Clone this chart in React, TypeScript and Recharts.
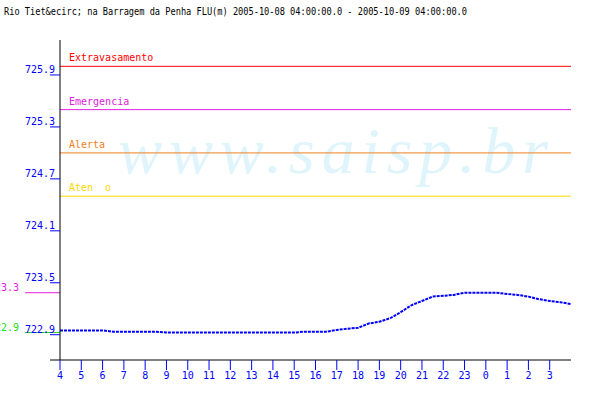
import React from 'react';
import { LineChart, Line, XAxis, YAxis, ReferenceLine, Customized } from 'recharts';

const title =
  'Rio Tiet&ecirc; na Barragem da Penha FLU(m) 2005-10-08 04:00:00.0 - 2005-10-09 04:00:00.0';
const watermark = 'www.saisp.br';

// hours after 04:00, one reading every half hour
const startHour = 4;
const hourTicks = [0, 1, 2, 3, 4, 5, 6, 7, 8, 9, 10, 11, 12, 13, 14, 15, 16, 17, 18, 19, 20, 21, 22, 23];
const levelTicks = [722.9, 723.5, 724.1, 724.7, 725.3, 725.9];

const levels = [
  722.95, 722.95, 722.95, 722.95, 722.95, 722.935, 722.935, 722.935, 722.935, 722.935, 722.925,
  722.925, 722.925, 722.925, 722.925, 722.925, 722.925, 722.925, 722.925, 722.925, 722.925, 722.925,
  722.925, 722.935, 722.935, 722.935, 722.955, 722.97, 722.98, 723.03, 723.05, 723.09, 723.16,
  723.24, 723.29, 723.34, 723.35, 723.36, 723.385, 723.385, 723.385, 723.385, 723.37, 723.36,
  723.34, 723.31, 723.29, 723.275, 723.255,
];

const thresholdNames = ['Extravasamento', 'Emergencia', 'Alerta', 'Aten  o'];
const thresholdValues = [726.0, 725.5, 725.0, 724.5];
const thresholdColors = ['#ff0000', '#e020e0', '#f08020', '#ffd700'];

const data = levels.map((v, i) => ({ h: i / 2, level: v }));
const maxLevel = Math.max(...levels);
const minLevel = Math.min(...levels);

const BLUE = '#0000ff';
const FONT = '"DejaVu Sans Mono", monospace';

const YTick = (props: any) => {
  const { y, payload } = props;
  return (
    <g>
      <line x1={50} x2={60} y1={y} y2={y} stroke={BLUE} />
      <text x={55} y={y - 2} textAnchor="end" fill={BLUE} fontSize={10} fontFamily={FONT}>
        {payload.value.toFixed(1)}
      </text>
    </g>
  );
};

const XTick = (props: any) => {
  const { x, y, payload } = props;
  return (
    <g>
      <line x1={x} x2={x} y1={y} y2={y + 10} stroke={BLUE} />
      <text x={x} y={y + 19} textAnchor="middle" fill={BLUE} fontSize={10} fontFamily={FONT}>
        {(payload.value + startHour) % 24}
      </text>
    </g>
  );
};

const thresholdLabel = (name: string, color: string) => (props: any) => {
  const vb = props.viewBox || {};
  return (
    <text x={vb.x + 9} y={vb.y - 5} fill={color} fontSize={10} fontFamily={FONT} style={{ whiteSpace: 'pre' }}>
      {name}
    </text>
  );
};

const sideLabel = (value: number, color: string) => (props: any) => {
  const vb = props.viewBox || {};
  return (
    <text x={vb.x - 6} y={vb.y - 2} textAnchor="end" fill={color} fontSize={10} fontFamily={FONT}>
      {(Math.floor(value * 10) / 10).toFixed(1)}
    </text>
  );
};

const Decor = () => (
  <g>
    <text
      x={118}
      y={173}
      fill="#e0f4fc"
      fontSize={66}
      fontStyle="italic"
      fontFamily='"Liberation Serif", serif'
      textLength={430}
      lengthAdjust="spacing"
    >
      {watermark}
    </text>
    <text x={4} y={15} fontSize={10} fontFamily={FONT} fill="#000" textLength={463} lengthAdjust="spacingAndGlyphs">
      {title}
    </text>
  </g>
);

export default function App() {
  return (
    <div style={{ position: 'absolute', left: 0, top: 0, width: 600, height: 400, background: '#fff' }}>
      <LineChart width={600} height={400} data={data} margin={{ top: 40, right: 29, left: 0, bottom: 0 }}>
        <Customized component={Decor} />
        <XAxis
          dataKey="h"
          type="number"
          domain={[0, 24]}
          ticks={hourTicks}
          height={40}
          tickSize={0}
          tickMargin={0}
          tickLine={false}
          axisLine={{ stroke: '#000' }}
          tick={<XTick />}
          interval={0}
        />
        <YAxis
          type="number"
          domain={[722.608, 726.304]}
          allowDataOverflow
          ticks={levelTicks}
          width={60}
          tickSize={0}
          tickMargin={0}
          tickLine={false}
          axisLine={{ stroke: '#000' }}
          tick={<YTick />}
          interval={0}
        />
        {thresholdValues.map((v, i) => (
          <ReferenceLine
            key={thresholdNames[i]}
            y={v}
            stroke={thresholdColors[i]}
            ifOverflow="visible"
            label={thresholdLabel(thresholdNames[i], thresholdColors[i])}
          />
        ))}
        <ReferenceLine
          segment={[{ x: -0.47, y: 722.608 }, { x: 0, y: 722.608 }]}
          stroke="#000"
          ifOverflow="visible"
        />
        <ReferenceLine
          segment={[{ x: -1.64, y: maxLevel }, { x: 0, y: maxLevel }]}
          stroke="#e020e0"
          ifOverflow="visible"
          label={sideLabel(maxLevel, '#e020e0')}
        />
        <ReferenceLine
          segment={[{ x: -1.64, y: minLevel }, { x: 0, y: minLevel }]}
          stroke="#22dd22"
          ifOverflow="visible"
          label={sideLabel(minLevel, '#22dd22')}
        />
        <Line
          type="linear"
          dataKey="level"
          stroke={BLUE}
          strokeWidth={2}
          strokeDasharray="3 1"
          dot={false}
          activeDot={false}
          isAnimationActive={false}
        />
      </LineChart>
    </div>
  );
}
